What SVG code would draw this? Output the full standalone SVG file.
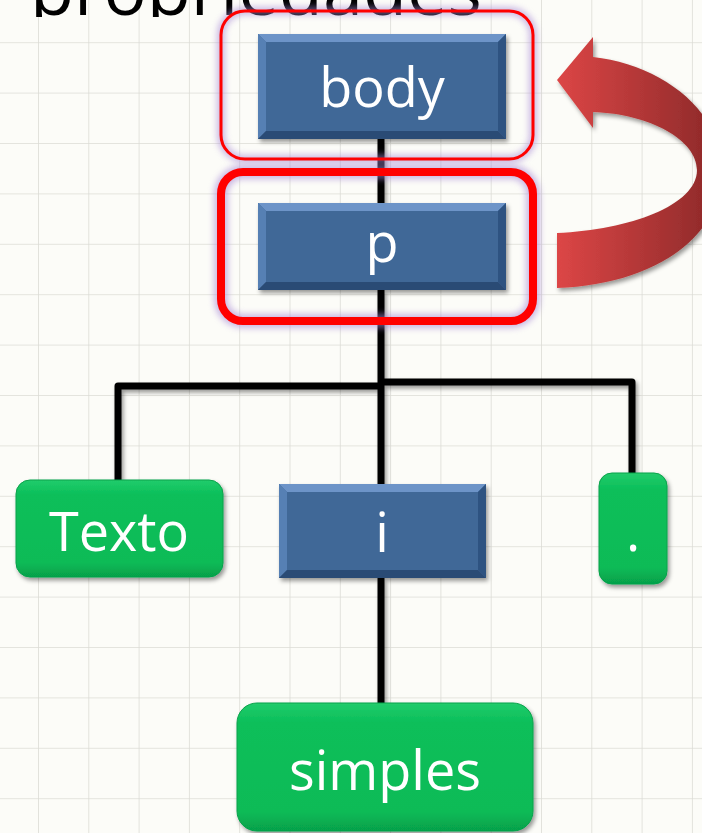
<svg xmlns="http://www.w3.org/2000/svg" width="702" height="833" viewBox="0 0 702 833">
<defs>
<style>
.lbl{font-family:"Open Sans","Liberation Sans",sans-serif;font-size:54px;fill:#ffffff;text-anchor:middle}
.conn{stroke:#000;stroke-width:7;fill:none;stroke-linecap:butt;stroke-linejoin:round}
.blue{fill:#3f6797}
.green{fill:url(#gg);stroke:#07a24a;stroke-width:1}
</style>
<pattern id="grid" patternUnits="userSpaceOnUse" x="38" y="42.2" width="50.3" height="50.4">
<rect width="50.3" height="50.4" fill="#fcfcf8"/>
<path d="M0 0V50.4M0 0H50.3" stroke="#dcdcd6" stroke-width="1.6" fill="none"/>
</pattern>
<linearGradient id="gg" x1="0" y1="0" x2="0" y2="1">
<stop offset="0" stop-color="#22cc6c"/>
<stop offset="0.15" stop-color="#0bbf5a"/>
<stop offset="0.85" stop-color="#09bb57"/>
<stop offset="1" stop-color="#06a04a"/>
</linearGradient>
<linearGradient id="rg" x1="557" y1="0" x2="722" y2="0" gradientUnits="userSpaceOnUse">
<stop offset="0" stop-color="#dc4646"/>
<stop offset="1" stop-color="#8a2828"/>
</linearGradient>
<filter id="sh" x="-10%" y="-10%" width="130%" height="140%">
<feDropShadow dx="2" dy="3" stdDeviation="2" flood-color="#000" flood-opacity="0.4"/>
</filter>
<filter id="glow" x="-10%" y="-10%" width="120%" height="120%">
<feGaussianBlur stdDeviation="3"/>
</filter>
<clipPath id="tc"><rect x="0" y="0" width="702" height="17"/></clipPath>
</defs>
<rect width="702" height="833" fill="url(#grid)"/>
<text x="30" y="15" clip-path="url(#tc)" font-family="Open Sans, Liberation Sans, sans-serif" font-size="72" fill="#000">propriedades</text>

<g id="connectors" filter="url(#sh)">
<path class="conn" d="M381 139V203"/>
<path class="conn" d="M381 290V485"/>
<path class="conn" d="M118 482V386H381"/>
<path class="conn" d="M381 382H632V473"/>
<path class="conn" d="M381 578V704"/>
</g>

<g id="arrow" filter="url(#sh)">
<path d="M557 80L593 37L593 57C660 64 722 110 722 170C722 240 650 285 557 288L557 233C630 230 697 205 697 170C697 140 650 114 593 112L593 128Z" fill="url(#rg)"/>
</g>

<g id="body">
<rect x="221" y="11" width="312" height="148" rx="24" fill="none" stroke="#a88ad6" stroke-width="8" opacity="0.6" filter="url(#glow)"/>
<rect x="221" y="11" width="312" height="148" rx="24" fill="none" stroke="#ff0000" stroke-width="3"/>
<g filter="url(#sh)">
<rect class="blue" x="258" y="34" width="248" height="105"/>
<polygon points="258,34 506,34 498,42 266,42" fill="#6d94c8"/>
<polygon points="258,34 266,42 266,131 258,139" fill="#5680b4"/>
<polygon points="506,34 498,42 498,131 506,139" fill="#2f5381"/>
<polygon points="258,139 266,131 498,131 506,139" fill="#2c4b74"/>
</g>
<text class="lbl" x="382" y="107">body</text>
</g>

<g id="p">
<rect x="221" y="172" width="312" height="149" rx="22" fill="none" stroke="#a88ad6" stroke-width="14" opacity="0.6" filter="url(#glow)"/>
<rect x="221" y="172" width="312" height="149" rx="22" fill="none" stroke="#ff0000" stroke-width="8"/>
<g filter="url(#sh)">
<rect class="blue" x="258" y="203" width="248" height="87"/>
<polygon points="258,203 506,203 498,211 266,211" fill="#6d94c8"/>
<polygon points="258,203 266,211 266,282 258,290" fill="#5680b4"/>
<polygon points="506,203 498,211 498,282 506,290" fill="#2f5381"/>
<polygon points="258,290 266,282 498,282 506,290" fill="#2c4b74"/>
</g>
<text class="lbl" x="382" y="262">p</text>
</g>

<g id="texto">
<rect class="green" x="16" y="480" width="207" height="97" rx="14" filter="url(#sh)"/>
<text class="lbl" x="119" y="551">Texto</text>
</g>

<g id="i">
<g filter="url(#sh)">
<rect class="blue" x="279" y="484" width="207" height="94"/>
<polygon points="279,484 486,484 478,492 287,492" fill="#6d94c8"/>
<polygon points="279,484 287,492 287,570 279,578" fill="#5680b4"/>
<polygon points="486,484 478,492 478,570 486,578" fill="#2f5381"/>
<polygon points="279,578 287,570 478,570 486,578" fill="#2c4b74"/>
</g>
<text class="lbl" x="382" y="552">i</text>
</g>

<g id="dot">
<rect class="green" x="599" y="473" width="68" height="111" rx="13" filter="url(#sh)"/>
<text class="lbl" x="633" y="551">.</text>
</g>

<g id="simples">
<rect class="green" x="237" y="703" width="296" height="128" rx="20" filter="url(#sh)"/>
<text class="lbl" x="385" y="790">simples</text>
</g>
</svg>
